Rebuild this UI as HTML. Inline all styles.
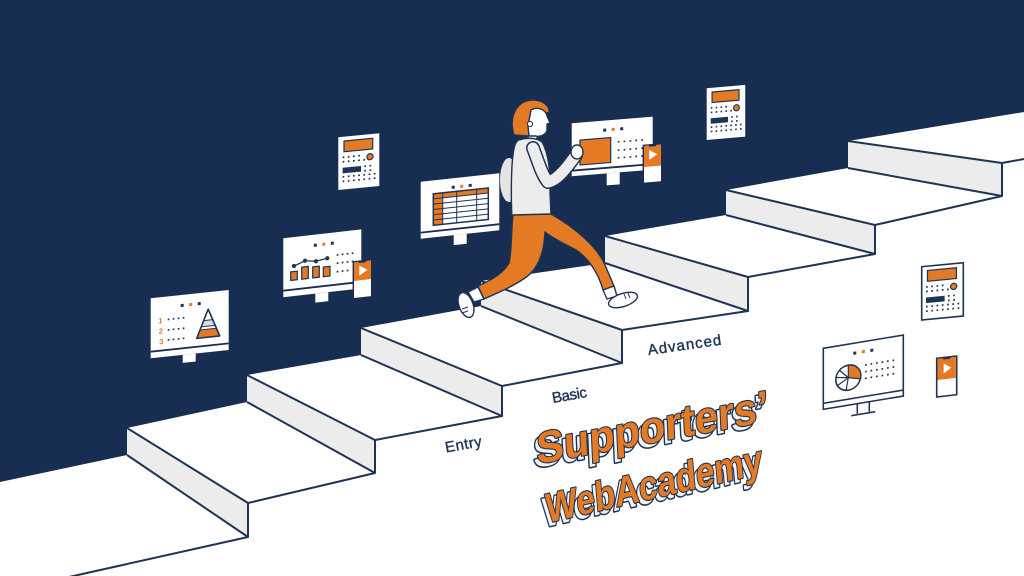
<!DOCTYPE html>
<html><head><meta charset="utf-8"><style>
html,body{margin:0;padding:0;background:#fff;}
svg{display:block;}
text{font-family:"Liberation Sans",sans-serif;}
</style></head><body>
<svg width="1024" height="576" viewBox="0 0 1024 576" xmlns="http://www.w3.org/2000/svg">
<defs>
<g id="calc">
  <rect x="0" y="0" width="41" height="52.7" fill="#fff"/>
  <rect x="5.7" y="4.3" width="28.7" height="10.7" fill="#e47a24" stroke="#1e3456" stroke-width="1.2"/>
  <circle cx="31.7" cy="22.5" r="3.1" fill="#e47a24" stroke="#1e3456" stroke-width="1.2"/>
  <path d="M4.3 20.5h18M4.3 25h24M26 31.5h8M26 36h8M4.3 40h33M4.3 44.5h33" stroke="#1e3456" stroke-width="1.7" stroke-dasharray="1.7 3.5" fill="none"/>
  <rect x="4.3" y="30.9" width="18.4" height="5.6" fill="#1e3456"/>
</g>
</defs>
<rect width="1024" height="576" fill="#fff"/>
<!-- navy wall -->
<path d="M0,0 H1024 V112 L848,141 V168 L726,190 V215 L605,236 V263 L481,281 V306 L361,328 V355 L247,375 V402 L127,428 V455 L0,482 Z" fill="#182d52"/>
<!-- risers -->
<g fill="#ececec">
<polygon points="127,428 248,503 248,537 127,455"/>
<polygon points="247,375 375,440 375,473 247,402"/>
<polygon points="361,328 502,386 502,416 361,355"/>
<polygon points="481,281 622,330 622,363 481,306"/>
<polygon points="605,236 748,277 748,311 605,263"/>
<polygon points="726,190 875,225 875,254 726,215"/>
<polygon points="848,141 1002,163 1002,196 848,168"/>
</g>
<g stroke="#1e3456" stroke-width="2" fill="none" stroke-linejoin="round">
<path d="M127,428 L248,503 M127,455 L248,537 V503"/>
<path d="M247,375 L375,440 M247,402 L375,473 V440"/>
<path d="M361,328 L502,386 M361,355 L502,416 V386"/>
<path d="M481,281 L622,330 M481,306 L622,363 V330"/>
<path d="M605,236 L748,277 M605,263 L748,311 V277"/>
<path d="M726,190 L875,225 M726,215 L875,254 V225"/>
<path d="M848,141 L1002,163 M848,168 L1002,196 V163"/>
<path d="M248,537 L60,579 M375,473 L248,503 M502,416 L375,440 M622,363 L502,386 M748,311 L622,330 M875,254 L748,277 M1002,196 L875,225 M1002,163 L1024,159"/>
</g>

<!-- Monitor 1 pyramid -->
<g transform="translate(150.7,298.3) skewY(-6.1)">
  <rect x="0" y="0" width="78" height="60" fill="#fff"/>
  <rect x="0" y="52.5" width="78" height="1.8" fill="#182d52"/>
  <rect x="32" y="60" width="13" height="8" fill="#fff"/>
  <rect x="30" y="9" width="3" height="3" fill="#1e3456"/><rect x="38.5" y="9" width="3" height="3" fill="#e47a24"/><rect x="47" y="9" width="3" height="3" fill="#1e3456"/>
  <g fill="#e47a24" font-size="7.5" font-weight="bold"><text x="7.5" y="26">1</text><text x="8" y="36.5">2</text><text x="8.5" y="47">3</text></g>
  <path d="M17 23h18M17 33.5h18M17 43.5h18" stroke="#1e3456" stroke-width="1.7" stroke-dasharray="1.7 3.3"/>
  <polygon points="49.4,37 65.6,37 69,45 46,45" fill="#e47a24"/>
  <polygon points="53,28 62,28 64.5,34 50.5,34" fill="#dcdcdc"/>
  <path d="M53 28h9M50.5 34h14M49.4 37h16.2" stroke="#1e3456" stroke-width="1"/>
  <polygon points="57.5,17 69,45 46,45" fill="none" stroke="#1e3456" stroke-width="1.6" stroke-linejoin="round"/>
</g>

<!-- Monitor 2 chart -->
<g transform="translate(283.3,238.3) skewY(-6.5)">
  <rect x="0" y="0" width="78" height="59" fill="#fff"/>
  <rect x="0" y="51.5" width="78" height="1.8" fill="#182d52"/>
  <rect x="32" y="59" width="13" height="9" fill="#fff"/>
  <rect x="30.5" y="9" width="3" height="3" fill="#1e3456"/><rect x="39" y="9" width="3" height="3" fill="#e47a24"/><rect x="47.5" y="9" width="3" height="3" fill="#1e3456"/>
  <g fill="#e47a24" stroke="#1e3456" stroke-width="1.2">
    <rect x="7.4" y="34.5" width="6.6" height="8.5"/><rect x="18.4" y="31" width="6.6" height="12"/><rect x="29.4" y="32" width="6.6" height="11"/><rect x="40" y="33.3" width="6.7" height="9.7"/>
  </g>
  <polyline points="10.7,28.9 21.7,24.9 32.7,26.7 44,25" fill="none" stroke="#1e3456" stroke-width="1.3"/>
  <g fill="#1e3456"><circle cx="10.7" cy="28.9" r="2.1"/><circle cx="21.7" cy="24.9" r="2.1"/><circle cx="32.7" cy="26.7" r="2.1"/><circle cx="44" cy="25" r="2.1"/></g>
  <path d="M53.4 22.8h17M53.4 31h17M53.4 39.5h12" stroke="#1e3456" stroke-width="1.7" stroke-dasharray="1.7 3.3"/>
  <rect x="70" y="31.5" width="18.4" height="37" fill="#fff" stroke="#182d52" stroke-width="1.4"/>
  <rect x="70.7" y="32.2" width="17" height="18.5" fill="#e47a24"/>
  <polygon points="76,36 76,46 84,41" fill="#fff"/>
  <rect x="75.5" y="31.5" width="7" height="1.8" fill="#182d52"/>
</g>

<!-- Calculator 1 -->
<use href="#calc" transform="translate(338.3,137.3) skewY(-5.6)"/>

<!-- Monitor 3 spreadsheet -->
<g transform="translate(420.7,181.7) skewY(-6.1)">
  <rect x="0" y="0" width="78.6" height="57" fill="#fff"/>
  <rect x="0" y="50" width="78.6" height="1.8" fill="#182d52"/>
  <rect x="33" y="57" width="13" height="10" fill="#fff"/>
  <rect x="31" y="7.5" width="3" height="3" fill="#1e3456"/><rect x="39.5" y="7.5" width="3" height="3" fill="#e47a24"/><rect x="48" y="7.5" width="3" height="3" fill="#1e3456"/>
  <rect x="12.6" y="13.5" width="55" height="5" fill="#e47a24"/>
  <rect x="12.6" y="18.5" width="9.4" height="26.5" fill="#e47a24"/>
  <g stroke="#1e3456" stroke-width="1" fill="none">
    <rect x="12.6" y="13.5" width="55" height="31.5" stroke-width="1.5"/>
    <path d="M12.6 18.5h55M12.6 23.8h55M12.6 29.1h55M12.6 34.4h55M12.6 39.7h55M22 13.5v31.5M36 13.5v31.5M56 13.5v31.5"/>
  </g>
</g>

<!-- Monitor 4 with hand -->
<g transform="translate(571.7,123.3) skewY(-4.7)">
  <rect x="0" y="0" width="81" height="53" fill="#fff"/>
  <rect x="0" y="46.5" width="81" height="1.8" fill="#182d52"/>
  <rect x="35" y="53" width="13" height="12" fill="#fff"/>
  <rect x="31.5" y="8" width="3" height="3" fill="#1e3456"/><rect x="40" y="8" width="3" height="3" fill="#e47a24"/><rect x="48.5" y="8" width="3" height="3" fill="#1e3456"/>
  <rect x="8.3" y="17.4" width="30.7" height="25" fill="#e47a24" stroke="#1e3456" stroke-width="1.2"/>
  <path d="M46 22.4h27M46 30.7h27M46 38.4h27" stroke="#1e3456" stroke-width="1.7" stroke-dasharray="1.7 4.2"/>
  <rect x="71.6" y="28" width="18.4" height="38" fill="#fff" stroke="#182d52" stroke-width="1.4"/>
  <rect x="72.3" y="28.7" width="17" height="21" fill="#e47a24"/>
  <polygon points="77.5,33 77.5,43 85.5,38" fill="#fff"/>
  <rect x="77.3" y="28" width="7" height="1.8" fill="#182d52"/>
</g>

<!-- Calculator 2 -->
<use href="#calc" transform="translate(706.7,88.3) skewY(-5) scale(0.94,0.98)"/>

<!-- Calculator 3 (outlined on white) -->
<g transform="translate(921.7,266.7) skewY(-5.5)">
  <use href="#calc" transform="scale(1.01,1.01)"/>
  <rect x="0" y="0" width="41.6" height="53.3" fill="none" stroke="#1e3456" stroke-width="1.6"/>
</g>

<!-- Pie monitor -->
<g transform="translate(823.3,348.3) skewY(-9.4)">
  <rect x="0" y="0" width="80" height="61" fill="#fff" stroke="#1e3456" stroke-width="1.6"/>
  <path d="M0 55h80" stroke="#1e3456" stroke-width="1.6"/>
  <path d="M34 61v10M46 61v10M28 72h24" stroke="#1e3456" stroke-width="1.6" fill="none"/>
  <rect x="30" y="8.5" width="3" height="3" fill="#1e3456"/><rect x="38.5" y="8.5" width="3" height="3" fill="#e47a24"/><rect x="47" y="8.5" width="3" height="3" fill="#1e3456"/>
  <circle cx="25" cy="33.5" r="12.5" fill="#fff" stroke="#1e3456" stroke-width="1.6"/>
  <path d="M25,33.5 L25,21 A12.5,12.5 0 0 1 37.1,36.7 Z" fill="#e47a24" stroke="#1e3456" stroke-width="1.2"/>
  <path d="M25 33.5L22.8 45.8M25 33.5L14.2 39.7M25 33.5L12.6 31.3M25 33.5L16.2 24.7" stroke="#1e3456" stroke-width="1.2"/>
  <path d="M41.7 23.6h32M41.7 30.3h32M41.7 37h32" stroke="#1e3456" stroke-width="1.7" stroke-dasharray="1.7 3.8"/>
</g>

<!-- Right phone -->
<g transform="translate(936.7,358.3) skewY(-6.6)">
  <rect x="0" y="0" width="20" height="38.7" fill="#fff" stroke="#1e3456" stroke-width="1.6"/>
  <rect x="0.8" y="0.8" width="18.4" height="21" fill="#e47a24"/>
  <polygon points="7,6 7,16 14.5,11" fill="#fff"/>
  <rect x="6.5" y="0" width="7" height="2" fill="#1e3456"/>
</g>

<!-- Person -->
<g stroke="#1e3456" stroke-width="1.4" stroke-linejoin="round">
  <!-- backpack -->
  <ellipse cx="509" cy="180" rx="9" ry="22" fill="#e4e4e4" stroke="none"/>
  <!-- neck -->
  <rect x="528" y="133" width="9" height="10" fill="#fff"/>
  <!-- sweater -->
  <path d="M519,140 C528,137 537,138 542,142 C548,152 551,172 550,192 L551,216 C538,220 523,220 512,218 C511,200 511,170 513,155 C514,146 516,141 519,140 Z" fill="#ececec"/>
  <!-- arm -->
  <path d="M533,148 C538,161 542,175 548,182 C558,180 568,166 576,155" fill="none" stroke="#1e3456" stroke-width="14" stroke-linecap="round"/>
  <path d="M533,148 C538,161 542,175 548,182 C558,180 568,166 576,155" fill="none" stroke="#ececec" stroke-width="11" stroke-linecap="round"/>
  <ellipse cx="577" cy="152" rx="6" ry="7" fill="#fff"/>
  <!-- hair & face -->
  <path d="M514,135 C508,115 518,100 533,100 C543,100 550,106 549,113 L531,111 L529,136 Z" fill="#e47a24"/>
  <path d="M531,110 C538,106 546,110 547,116 L550,123 L547,124 L547,130 C546,135 540,137 536,136 L529,136 L528,126 Z" fill="#fff"/>
  <circle cx="530" cy="124" r="2.6" fill="#fff" stroke-width="1"/>
  <!-- pants -->
  <path d="M513,215 L551,214 C576,228 598,248 605,265 L614,286 L603,290 C598,272 588,258 576,250 C565,244 552,238 545,232 C544,255 537,270 525,278 C512,287 497,293 484,299 L478,286 C492,280 504,272 509,263 C512,250 511,232 513,215 Z" fill="#e47a24"/>
  <!-- socks -->
  <path d="M478,287 L484,299 L474,302 L468,292 Z" fill="#fff"/>
  <path d="M603,290 L614,286 L617,296 L607,299 Z" fill="#fff"/>
  <!-- shoes -->
  <ellipse cx="466" cy="305" rx="7" ry="13" transform="rotate(-20 466 305)" fill="#fff"/>
  <path d="M462 309l6 -2M462 313l6 -2" stroke-width="1"/>
  <ellipse cx="623" cy="300" rx="15" ry="6.5" transform="rotate(-18 623 300)" fill="#fff"/>
  <path d="M624 294l2 5M628 293l2 5" stroke-width="1"/>
</g>

<!-- step labels -->
<g fill="#1e3456" stroke="#1e3456" stroke-width="0.4" font-size="15">
  <text transform="translate(446,452.5) rotate(-10)" textLength="37">Entry</text>
  <text transform="translate(553,403) rotate(-10)" textLength="35">Basic</text>
  <text transform="translate(648.5,355) rotate(-8)" textLength="74">Advanced</text>
</g>

<!-- title -->
<g font-weight="bold" paint-order="stroke" stroke-linejoin="round">
  <g transform="translate(537,464) rotate(-10.5) skewX(-8)" font-size="44">
    <text x="-3.5" y="3.5" fill="#f2f2f2" stroke="#1e3456" stroke-width="3" textLength="236" lengthAdjust="spacingAndGlyphs">Supporters’</text>
    <text x="0" y="0" fill="#e47a24" stroke="#1e3456" stroke-width="2.2" textLength="236" lengthAdjust="spacingAndGlyphs">Supporters’</text>
  </g>
  <g transform="translate(547,523) rotate(-13) skewX(-8)" font-size="41">
    <text x="-3.5" y="3.5" fill="#f2f2f2" stroke="#1e3456" stroke-width="3" textLength="222" lengthAdjust="spacingAndGlyphs">WebAcademy</text>
    <text x="0" y="0" fill="#e47a24" stroke="#1e3456" stroke-width="2.2" textLength="222" lengthAdjust="spacingAndGlyphs">WebAcademy</text>
  </g>
</g>
</svg>
</body></html>
